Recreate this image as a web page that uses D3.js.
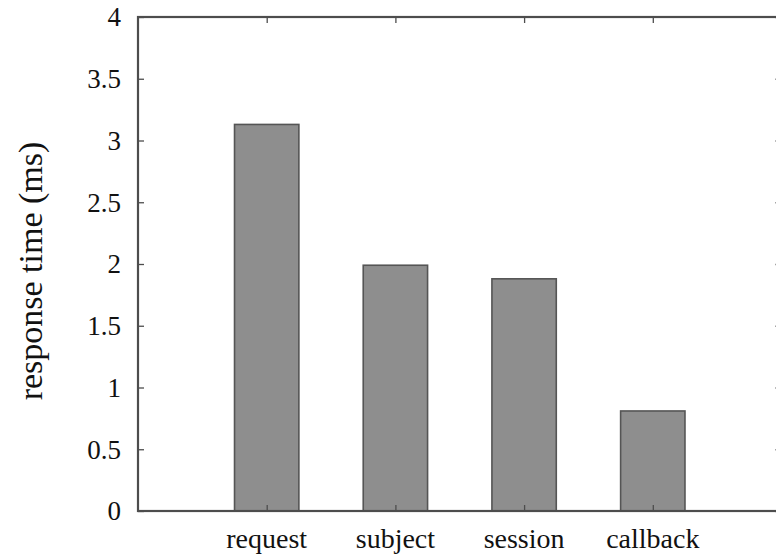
<!DOCTYPE html>
<html>
<head>
<meta charset="utf-8">
<script src="https://cdn.jsdelivr.net/npm/d3@7"></script>
<style>
  html, body { margin: 0; padding: 0; background: #fff; }
  svg { display: block; }
  text { font-family: "Liberation Serif", "Times New Roman", serif; fill: #111; }
</style>
</head>
<body>
<svg id="chart" width="776" height="557"></svg>
<script>
// Response time per handler stage
const categories = ["request", "subject", "session", "callback"];
const responseMs = [3.13, 1.99, 1.88, 0.81];
const yTicks = [0, 0.5, 1, 1.5, 2, 2.5, 3, 3.5, 4];
const yTickLabels = ["0", "0.5", "1", "1.5", "2", "2.5", "3", "3.5", "4"];

const svg = d3.select("#chart");
const frame = { left: 138, right: 781.5, top: 17, bottom: 511 };
const axisColor = "#4d4d4d";

const x = d3.scalePoint()
  .domain(categories)
  .range([frame.left, frame.right])
  .padding(1);

const y = d3.scaleLinear()
  .domain([0, 4])
  .range([frame.bottom, frame.top]);

const barWidth = x.step() * 0.5;

// bars
svg.append("g")
  .selectAll("rect")
  .data(categories)
  .join("rect")
  .attr("x", d => x(d) - barWidth / 2)
  .attr("y", (d, i) => y(responseMs[i]))
  .attr("width", barWidth)
  .attr("height", (d, i) => y(0) - y(responseMs[i]))
  .attr("fill", "#8e8e8e")
  .attr("stroke", "#555")
  .attr("stroke-width", 1.6);

// inward ticks on all four sides of the frame
function styleAxis(g) {
  g.select(".domain").remove();
  g.selectAll(".tick line").attr("stroke", axisColor).attr("stroke-width", 1.3);
}

svg.append("g")
  .attr("transform", `translate(${frame.left},0)`)
  .call(d3.axisRight(y).tickValues(yTicks).tickSize(6).tickFormat(""))
  .call(styleAxis);

svg.append("g")
  .attr("transform", `translate(${frame.right},0)`)
  .call(d3.axisLeft(y).tickValues(yTicks).tickSize(6).tickFormat(""))
  .call(styleAxis);

svg.append("g")
  .attr("transform", `translate(0,${frame.top})`)
  .call(d3.axisBottom(x).tickSize(6).tickFormat(""))
  .call(styleAxis);

svg.append("g")
  .attr("transform", `translate(0,${frame.bottom})`)
  .call(d3.axisTop(x).tickSize(6).tickFormat(""))
  .call(styleAxis);

// y tick labels
svg.append("g")
  .selectAll("text")
  .data(yTicks)
  .join("text")
  .attr("x", frame.left - 17)
  .attr("y", d => y(d))
  .attr("dy", "0.35em")
  .attr("text-anchor", "end")
  .attr("font-size", 27)
  .text((d, i) => yTickLabels[i]);

// category labels
svg.append("g")
  .selectAll("text")
  .data(categories)
  .join("text")
  .attr("x", d => x(d))
  .attr("y", 548)
  .attr("text-anchor", "middle")
  .attr("font-size", 28)
  .text(d => d);

// frame
svg.append("rect")
  .attr("x", frame.left)
  .attr("y", frame.top)
  .attr("width", frame.right - frame.left)
  .attr("height", frame.bottom - frame.top)
  .attr("fill", "none")
  .attr("stroke", axisColor)
  .attr("stroke-width", 2.2);

// y axis title
svg.append("text")
  .attr("transform", `translate(42,${(frame.top + frame.bottom) / 2 + 7}) rotate(-90)`)
  .attr("text-anchor", "middle")
  .attr("font-size", 34)
  .text("response time (ms)");
</script>
</body>
</html>
